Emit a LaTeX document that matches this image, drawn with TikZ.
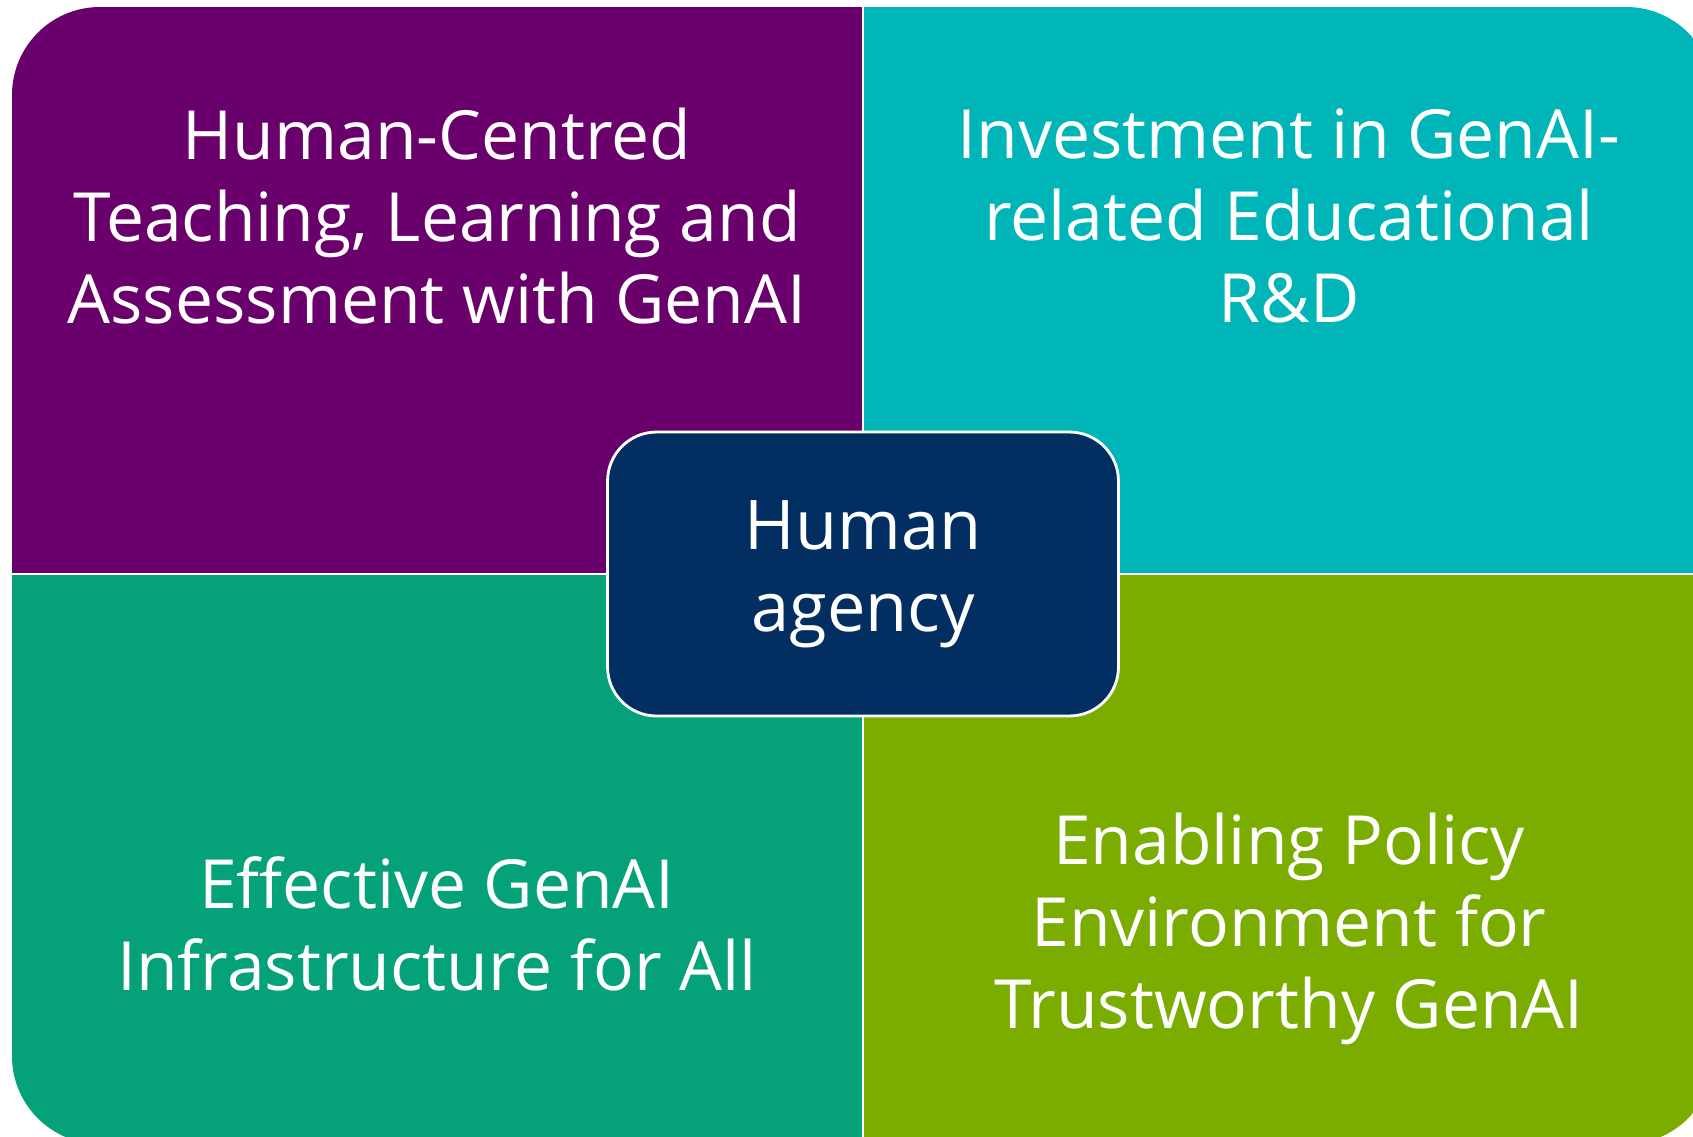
\documentclass[tikz,border=0pt]{standalone}
\usepackage{fontspec}
\setmainfont{Open Sans}
\usetikzlibrary{positioning}
\definecolor{agpurple}{RGB}{106,0,107}
\definecolor{agteal}{RGB}{0,181,184}
\definecolor{aggreen}{RGB}{5,162,122}
\definecolor{aglime}{RGB}{122,173,0}
\definecolor{agnavy}{RGB}{3,46,97}

\begin{document}
\begin{tikzpicture}[x=0.02cm, y=-0.02cm,
    pillar/.style={text=white, align=center, font=\fontsize{38.6}{46.5}\selectfont},
    core/.style={draw=white, line width=1.6pt, fill=agnavy, rounded corners=0.98cm,
                 minimum width=10.22cm, minimum height=5.68cm, text=white, align=center,
                 font=\fontsize{39}{46.5}\selectfont},
    split/.style={draw=white, line width=1.6pt}]
      \useasboundingbox (0,0) rectangle (1693,1136);

      % the four quadrants, clipped to one rounded block
      \begin{scope}
        \clip (0,0) rectangle (1693,1136);
        \clip[rounded corners=1.76cm] (12,7) rectangle (1714,1144);
        \fill[agpurple] (12,7)    rectangle (863,574);
        \fill[agteal]   (863,7)   rectangle (1714,574);
        \fill[aggreen]  (12,574)  rectangle (863,1144);
        \fill[aglime]   (863,574) rectangle (1714,1144);
        \coordinate (top)    at (863,0);
        \coordinate (bottom) at (863,1144);
        \coordinate (left)   at (0,574);
        \coordinate (right)  at (1714,574);
        \draw[split] (top) -- (bottom);
        \draw[split] (left) -- (right);
      \end{scope}

      \node[pillar] (teach)  at (437,216) {Human-Centred\\Teaching, Learning and\\Assessment with GenAI};
      \node[pillar] (invest) at (1289,216) {Investment in GenAI-\\related Educational\\R\&D};
      \node[pillar] (infra)  at (437,924) {Effective GenAI\\Infrastructure for All};
      \node[pillar] (policy) at (1289,929) {Enabling Policy\\Environment for\\Trustworthy GenAI};

      \node[core] (agency) at (863,574) {Human\\agency};
    \end{tikzpicture}
\end{document}
